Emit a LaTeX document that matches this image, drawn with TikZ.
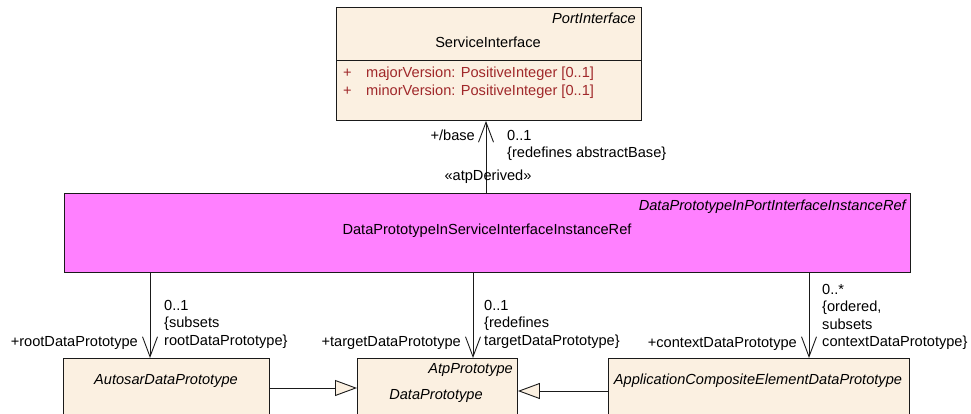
\documentclass[tikz,border=0pt]{standalone}
\usepackage{fontspec}
\setmainfont{Liberation Sans}
\usetikzlibrary{positioning,arrows.meta}
\definecolor{umlCream}{HTML}{FBF0E1}
\definecolor{umlPink}{HTML}{FF80FF}
\definecolor{umlAttr}{HTML}{A0282A}
\definecolor{umlInk}{HTML}{1A1A1A}
\newcommand{\umlfont}{\fontsize{14.6}{17.5}\selectfont}
\tikzset{
  classbox/.style   = {draw=umlInk, line width=0.9pt, fill=umlCream,
                       anchor=north west, inner sep=0pt},
  refbox/.style     = {classbox, fill=umlPink},
  cname/.style      = {font=\umlfont, inner sep=0pt, anchor=base},
  pname/.style      = {font=\umlfont\itshape, inner sep=0pt, anchor=base east},
  iname/.style      = {font=\umlfont\itshape, inner sep=0pt, anchor=base},
  attr/.style       = {font=\umlfont, text=umlAttr, inner sep=0pt, anchor=base west},
  role/.style       = {font=\umlfont, inner sep=0pt, anchor=base east},
  mult/.style       = {font=\umlfont, inner sep=0pt, align=left, anchor=north west},
  sepline/.style    = {line width=0.9pt, draw=umlInk},
  assoc/.style      = {-{Straight Barb[length=20pt, width=15pt]}, line width=0.9pt, draw=umlInk},
  generalize/.style = {-{Triangle[length=22pt, width=16pt, fill=umlCream]},
                       line width=0.9pt, draw=umlInk},
}

\begin{document}
\begin{tikzpicture}[x=1pt, y=-1pt]
  \clip (0,0) rectangle (971,414);

  \node[classbox, minimum width=305, minimum height=113] (svc) at (336,7) {};
  \coordinate (svcsep) at (0,60);
  \draw[sepline] (svc.west |- svcsep) -- (svc.east |- svcsep);
  \node[pname] (svcparent) at (636,24) {PortInterface};
  \node[cname] (svcname) at (488,48) {ServiceInterface};
  \node[attr] (svcvis1) at (343,78) {+};
  \node[attr] (svcattr1) at (366,78) {majorVersion: PositiveInteger [0..1]};
  \node[attr] (svcvis2) at (343,96) {+};
  \node[attr] (svcattr2) at (366,96) {minorVersion: PositiveInteger [0..1]};

  \node[refbox, minimum width=846, minimum height=79] (ref) at (64,193) {};
  \node[pname] (refparent) at (906,210) {DataPrototypeInPortInterfaceInstanceRef};
  \node[cname] (refname) at (487,234) {DataPrototypeInServiceInterfaceInstanceRef};

  \node[classbox, minimum width=206, minimum height=80] (adp) at (63,358) {};
  \node[iname] (adpname) at (166,384) {AutosarDataPrototype};
  \node[classbox, minimum width=160, minimum height=80] (dp) at (357,358) {};
  \node[pname] (dpparent) at (513,373) {AtpPrototype};
  \node[iname] (dpname) at (436,399) {DataPrototype};
  \node[classbox, minimum width=301, minimum height=80] (acedp) at (608,358) {};
  \node[iname] (acedpname) at (758,384) {ApplicationCompositeElementDataPrototype};

  % associations
  \coordinate (basex) at (486,0);
  \coordinate (rootx) at (150,0);
  \coordinate (targetx) at (473,0);
  \coordinate (contextx) at (809,0);
  \draw[assoc] (basex |- ref.north) -- (basex |- svc.south);
  \draw[assoc] (rootx |- ref.south) -- (rootx |- adp.north);
  \draw[assoc] (targetx |- ref.south) -- (targetx |- dp.north);
  \draw[assoc] (contextx |- ref.south) -- (contextx |- acedp.north);

  \node[role] (baserole) at (475,141) {+/base};
  \node[mult] (basemult) at (507,130) {0..1\\{\{}redefines abstractBase\}};
  \node[cname] (basestereo) at (488,181) {«atpDerived»};

  \node[role] (rootrole) at (138,346) {+rootDataPrototype};
  \node[mult] (rootmult) at (164,300) {0..1\\{\{}subsets\\rootDataPrototype\}};
  \node[role] (targetrole) at (461,346) {+targetDataPrototype};
  \node[mult] (targetmult) at (484,300) {0..1\\{\{}redefines\\targetDataPrototype\}};
  \node[role] (contextrole) at (797,347) {+contextDataPrototype};
  \node[mult] (contextmult) at (822,284) {0..*\\{\{}ordered,\\subsets\\contextDataPrototype\}};

  % generalizations
  \coordinate (genleft) at (0,388);
  \coordinate (genright) at (0,391);
  \draw[generalize] (adp.east |- genleft) -- (dp.west |- genleft);
  \draw[generalize] (acedp.west |- genright) -- (dp.east |- genright);
\end{tikzpicture}
\end{document}
